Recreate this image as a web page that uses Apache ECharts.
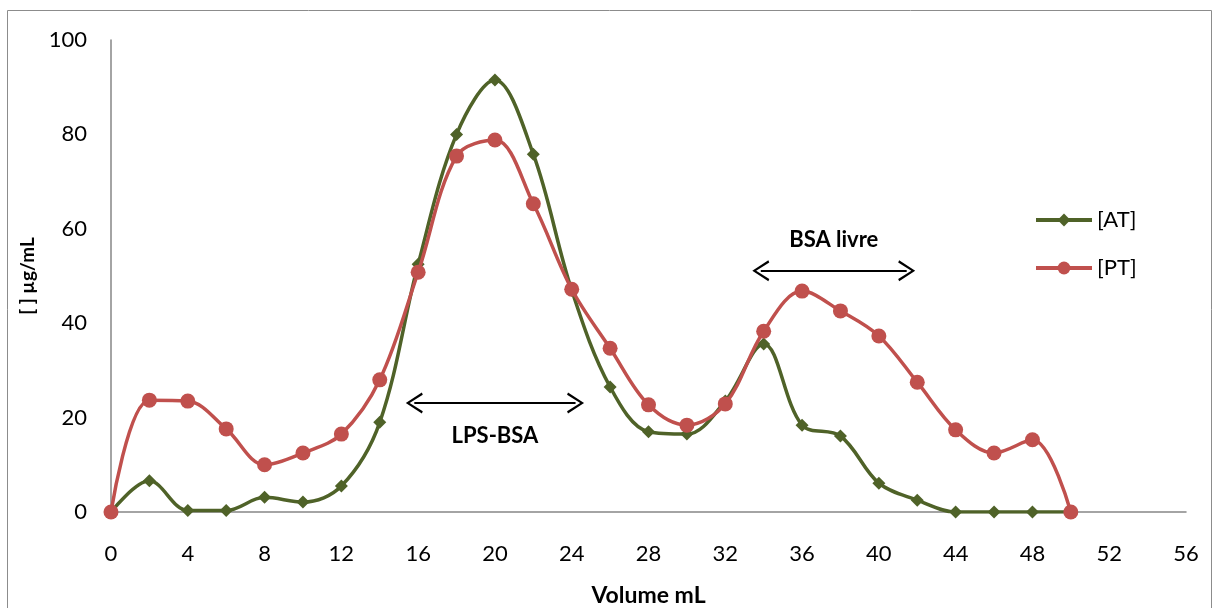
<!DOCTYPE html>
<html>
<head>
<meta charset="utf-8">
<script src="https://cdn.jsdelivr.net/npm/echarts@6/dist/echarts.min.js"></script>
<style>
  html, body { margin: 0; padding: 0; background: #fff; }
  #chart { width: 1214px; height: 608px; }
</style>
</head>
<body>
<div id="chart"></div>
<script>
var volume = [0, 2, 4, 6, 8, 10, 12, 14, 16, 18, 20, 22, 24, 26, 28, 30, 32, 34, 36, 38, 40, 42, 44, 46, 48, 50];
var valuesAT = [0, 6.6, 0.3, 0.3, 3.1, 2.1, 5.5, 19, 52.5, 80, 91.5, 75.8, 47, 26.5, 17, 16.5, 23.5, 35.6, 18.4, 16.1, 6.1, 2.5, 0, 0, 0, 0];
var valuesPT = [0, 23.7, 23.5, 17.6, 10, 12.5, 16.5, 28, 50.8, 75.4, 78.8, 65.3, 47.2, 34.7, 22.7, 18.4, 22.9, 38.3, 46.8, 42.6, 37.3, 27.5, 17.4, 12.5, 15.3, 0];
var arrowLPS = [[15.8, 23.1], [24.2, 23.1]];
var arrowBSA = [[33.85, 51.1], [41.45, 51.1]];

function pairs(xs, ys) {
  return xs.map(function (x, i) { return [x, ys[i]]; });
}

// open chevron head
var chevron = 'path://M0,10 L5,0 L10,10 L8.9,10.6 L5,2.4 L1.1,10.6 Z';
var font = 'Lato, "Open Sans", sans-serif';

function arrowLine(pts, text, pos) {
  return {
    silent: true,
    symbol: [chevron, chevron],
    symbolSize: [21, 17],
    lineStyle: { color: '#000', width: 2, type: 'solid' },
    label: {
      show: true, position: pos, formatter: text, distance: pos === 'insideMiddleTop' ? 20 : 22,
      color: '#000', fontWeight: 'bold', fontSize: 22, fontFamily: font
    },
    data: [[{ coord: pts[0] }, { coord: pts[1] }]]
  };
}

var chart = echarts.init(document.getElementById('chart'));
var option = {
  animation: false,
  textStyle: { fontFamily: font },
  graphic: [{
    type: 'rect', shape: { x: 7.5, y: 10.5, width: 1204, height: 610 },
    style: { fill: 'none', stroke: '#8c8c8c', lineWidth: 1 }, silent: true
  }],
  grid: { left: 111, right: 28, top: 40, bottom: 96, outerBoundsMode: 'none' },
  legend: {
    orient: 'vertical', left: 1029, top: 204, itemGap: 26,
    itemWidth: 56, itemHeight: 16,
    lineStyle: { width: 4 },
    textStyle: { fontSize: 22, color: '#000', fontFamily: font },
    data: ['[AT]', '[PT]']
  },
  xAxis: {
    type: 'value', min: 0, max: 56, interval: 4,
    name: 'Volume mL', nameLocation: 'middle', nameGap: 72,
    nameTextStyle: { fontSize: 23, fontWeight: 'bold', color: '#000' },
    axisLine: { lineStyle: { color: '#868686', width: 1.5 } },
    axisTick: { show: false },
    axisLabel: { fontSize: 22, color: '#000', margin: 31 },
    splitLine: { show: false }
  },
  yAxis: {
    type: 'value', min: 0, max: 100, interval: 20,
    name: '[ ] µg/mL', nameLocation: 'middle', nameGap: 70, nameRotate: 90,
    nameTextStyle: { fontSize: 19, fontWeight: 'bold', color: '#000' },
    axisLine: { show: true, lineStyle: { color: '#868686', width: 1.5 } },
    axisTick: { show: false },
    axisLabel: { fontSize: 22, color: '#000', margin: 24 },
    splitLine: { show: false }
  },
  series: [{
    name: '[AT]', type: 'line', smooth: 0.35,
    data: pairs(volume, valuesAT),
    symbol: 'diamond', symbolSize: 13,
    lineStyle: { color: '#4F6228', width: 3.5 },
    itemStyle: { color: '#4F6228' },
    z: 2,
    markLine: arrowLine(arrowLPS, 'LPS-BSA', 'insideMiddleBottom')
  }, {
    name: '[PT]', type: 'line', smooth: 0.35,
    data: pairs(volume, valuesPT),
    symbol: 'circle', symbolSize: 15,
    lineStyle: { color: '#C0504D', width: 3.5 },
    itemStyle: { color: '#C0504D' },
    z: 3,
    markLine: arrowLine(arrowBSA, 'BSA livre', 'insideMiddleTop')
  }]
};
chart.setOption(option);
window.onresize = function () { chart.resize(); };
</script>
</body>
</html>
